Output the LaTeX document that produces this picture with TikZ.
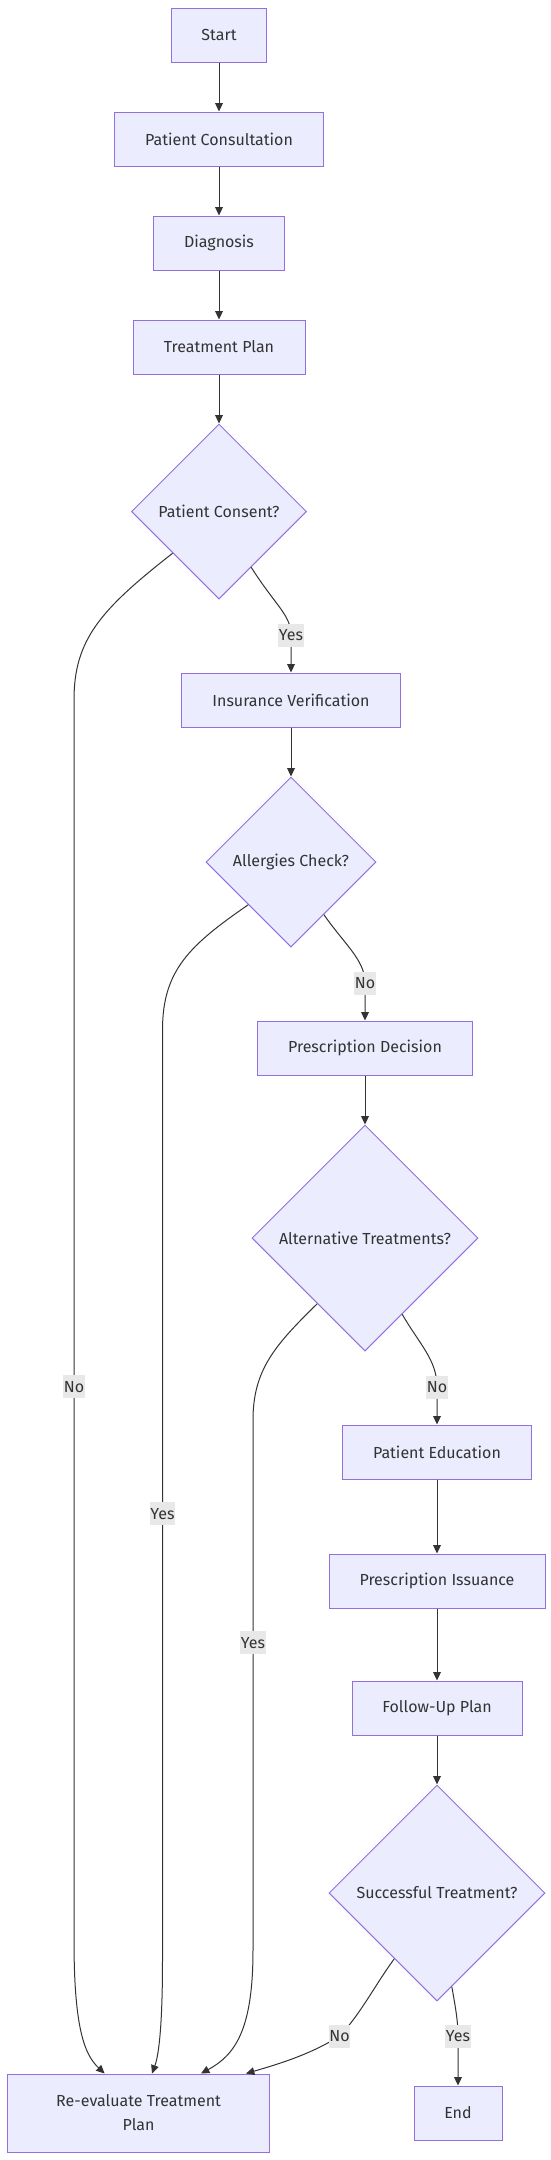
\documentclass[tikz,border=0pt]{standalone}
\usepackage{fontspec}
\setmainfont{Fira Sans}
\usetikzlibrary{shapes.geometric,arrows.meta,calc}
\definecolor{mmfill}{HTML}{ECECFF}
\definecolor{mmstroke}{HTML}{9370DB}
\definecolor{mmline}{HTML}{333333}
\definecolor{mmlabel}{HTML}{E8E8E8}
\newdimen\pxu \pxu=0.75pt
\begin{document}
\begin{tikzpicture}[x=0.75pt,y=0.75pt]
            \tikzstyle{every node}+=[inner sep=0pt, text=mmline, font=\fontsize{12}{18}\selectfont]
            \tikzstyle{box}=[draw=mmstroke, fill=mmfill, line width=1\pxu, minimum height=54\pxu]
            \tikzstyle{decision}=[box, diamond, aspect=1]
            \tikzstyle{flow}=[draw=mmline, line width=1\pxu, -{Triangle[length=6.3pt,width=5.8pt]}]
            \tikzstyle{lbl}=[fill=mmlabel, minimum height=23\pxu, inner xsep=0.5\pxu]
            \useasboundingbox (0,0) rectangle (550,-2160);
                \node[box, minimum width=95\pxu] (start) at (219,-35) {Start};
                \node[box, minimum width=209\pxu] (consult) at (219,-139) {Patient Consultation};
                \node[box, minimum width=131\pxu] (diag) at (219,-243) {Diagnosis};
                \node[box, minimum width=172\pxu] (plan) at (219,-347) {Treatment Plan};
                \node[decision, minimum size=175\pxu] (consent) at (219,-511.5) {Patient Consent?};
                \node[box, minimum width=219\pxu] (insur) at (291,-700) {Insurance Verification};
                \node[decision, minimum size=170\pxu] (allerg) at (291,-862) {Allergies Check?};
                \node[box, minimum width=215\pxu] (presc) at (365,-1048) {Prescription Decision};
                \node[decision, minimum size=226\pxu] (alt) at (365,-1238) {Alternative Treatments?};
                \node[box, minimum width=189\pxu] (educ) at (437,-1452) {Patient Education};
                \node[box, minimum width=216\pxu] (issue) at (437,-1581) {Prescription Issuance};
                \node[box, minimum width=170\pxu] (follow) at (437,-1708) {Follow-Up Plan};
                \node[decision, minimum size=216\pxu] (succ) at (437,-1893) {Successful Treatment?};
                \node[box, minimum width=262\pxu, minimum height=78\pxu, align=center] (reeval) at (138.6,-2113) {Re-evaluate Treatment\\Plan};
                \node[box, minimum width=88\pxu] (finish) at (458,-2113) {End};
                % straight links
                \draw[flow] (start) -- (consult);
                \draw[flow] (consult) -- (diag);
                \draw[flow] (diag) -- (plan);
                \draw[flow] (plan) -- (consent);
                \draw[flow] (insur) -- (allerg);
                \draw[flow] (presc) -- (alt);
                \draw[flow] (educ) -- (issue);
                \draw[flow] (issue) -- (follow);
                \draw[flow] (follow) -- (succ);
                % yes / no branches
                \draw[flow] (consent.-60) .. controls (275,-605) and (291,-615) .. (291,-635) node[lbl] {Yes} -- (insur);
                \draw[flow] (consent.-138) .. controls (100,-610) and (74,-640) .. (74,-700)
                    -- node[lbl, pos=.554] {No} (74,-1940)
                    .. controls (74,-2030) and (85,-2055) .. ($(reeval.north)+(-34,0)$);
                \draw[flow] (allerg.-58) .. controls (345,-945) and (365,-960) .. (365,-983) node[lbl] {No} -- (presc);
                \draw[flow] (allerg.-135) .. controls (190,-945) and (162.5,-970) .. (162.5,-1030)
                    -- node[lbl, pos=.52] {Yes} (162.5,-1960)
                    .. controls (162.5,-2040) and (157,-2060) .. ($(reeval.north)+(13.4,0)$);
                \draw[flow] (alt.-64) .. controls (420,-1345) and (437,-1360) .. (437,-1387) node[lbl] {No} -- (educ);
                \draw[flow] (alt.-126) .. controls (275,-1345) and (253,-1370) .. (253,-1420)
                    -- node[lbl, pos=.42] {Yes} (253,-1950)
                    .. controls (253,-2030) and (235,-2055) .. ($(reeval.north)+(62.4,0)$);
                \draw[flow] (succ.-123) .. controls (375,-1985) and (360,-2015) .. (339.5,-2036) node[lbl] {No}
                    .. controls (310,-2055) and (275,-2065) .. ($(reeval.north)+(107.4,0)$);
                \draw[flow] (succ.-81.5) .. controls (455,-2005) and (458,-2020) .. (458,-2036) node[lbl] {Yes} -- (finish);
            \end{tikzpicture}
\end{document}
